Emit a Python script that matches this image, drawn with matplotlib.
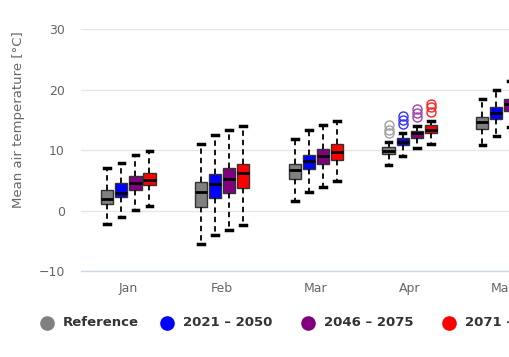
import numpy as np
import matplotlib
matplotlib.use("Agg")
import matplotlib.pyplot as plt
from matplotlib.lines import Line2D

plt.rcParams['font.family'] = ['DejaVu Sans']

months = ["Jan", "Feb", "Mar", "Apr", "May"]
series_names = ["Reference", "2021 \u2013 2050", "2046 \u2013 2075", "2071 \u2013 2100"]
series_colors = ["#808080", "#0000ff", "#800080", "#ff0000"]
flier_colors = ["#a0a0a0", "#3030ff", "#a040a8", "#ff2020"]

# [low, q1, median, q3, high] per month
reference = [[-2.2, 1.1, 2.0, 3.4, 7.0],
             [-5.5, 0.6, 3.1, 4.8, 11.0],
             [1.6, 5.3, 6.7, 7.8, 11.8],
             [7.6, 9.4, 9.9, 10.6, 11.4],
             [10.8, 13.6, 14.6, 15.5, 18.5]]
near_future = [[-1.1, 2.3, 3.0, 4.6, 7.9],
               [-4.0, 2.1, 4.5, 6.1, 12.5],
               [3.1, 6.9, 8.3, 9.3, 13.3],
               [9.0, 10.8, 11.4, 12.0, 12.9],
               [12.3, 15.2, 16.2, 17.1, 20.0]]
mid_future = [[0.2, 3.5, 4.6, 5.7, 9.3],
              [-3.2, 2.9, 5.2, 7.0, 13.3],
              [3.9, 7.7, 9.0, 10.2, 14.1],
              [10.3, 12.1, 12.8, 13.2, 14.0],
              [13.8, 16.5, 17.6, 18.4, 21.5]]
far_future = [[0.8, 4.2, 5.1, 6.3, 9.9],
              [-2.4, 3.8, 6.2, 7.8, 14.0],
              [4.9, 8.4, 9.7, 11.0, 14.9],
              [11.0, 12.9, 13.3, 14.2, 14.9],
              [15.0, 17.6, 18.6, 19.6, 23.0]]

# outliers, only in April
april_outliers = [[12.8, 13.4, 14.1],
                  [14.3, 15.0, 15.6],
                  [15.5, 16.2, 16.9],
                  [16.3, 17.1, 17.7]]

all_series = [reference, near_future, mid_future, far_future]
offsets = [-0.225, -0.075, 0.075, 0.225]

fig = plt.figure(figsize=(5.1, 3.57), dpi=100, facecolor='w')
ax = fig.add_axes([81.5 / 510, 1 - 271.3 / 357, 1 - 81.5 / 510, (271.3 - 29.3) / 357])

x = np.arange(len(months))
for s, data in enumerate(all_series):
    stats = []
    for m, row in enumerate(data):
        stats.append({
            "whislo": row[0], "q1": row[1], "med": row[2], "q3": row[3], "whishi": row[4],
            "fliers": april_outliers[s] if months[m] == "Apr" else [],
        })
    ax.bxp(
        stats, positions=x + offsets[s], widths=0.13, patch_artist=True,
        boxprops=dict(facecolor=series_colors[s], edgecolor='#333333', linewidth=1.0),
        medianprops=dict(color='black', linewidth=2.0),
        whiskerprops=dict(color='black', linewidth=1.3, linestyle=(0, (3, 2.2))),
        capprops=dict(color='black', linewidth=2.5),
        capwidths=0.06,
        flierprops=dict(marker='o', markersize=6.5, markerfacecolor='none',
                        markeredgecolor=flier_colors[s], markeredgewidth=1.0),
        zorder=3,
    )

ax.set_xlim(-0.5, 4.07)
ax.set_ylim(-10, 30)
ax.set_xticks(x)
ax.set_xticklabels(months)
ax.set_yticks([-10, 0, 10, 20, 30])
ax.set_yticklabels(["\u221210", "0", "10", "20", "30"])

ax.grid(True, axis='y', color='#e6e6e6', linewidth=1.0, zorder=0)
for side in ["top", "right", "left"]:
    ax.spines[side].set_visible(False)
ax.spines["bottom"].set_color('#ccd6eb')
ax.spines["bottom"].set_linewidth(1.0)
ax.tick_params(axis='both', length=0, labelsize=9, colors='#666666')
ax.tick_params(axis='x', pad=8)
ax.tick_params(axis='y', pad=12)
ax.set_ylabel("Mean air temperature [\u00b0C]", fontsize=9.5, color='#666666', labelpad=4)
ax.yaxis.set_label_coords(-0.131, 0.625)

# legend entries placed along the bottom, last one runs past the edge like the reference
legend_x = [47, 167, 308, 449]
legend_y = 1 - 323 / 357
for lx, name, c in zip(legend_x, series_names, series_colors):
    fig.add_artist(Line2D([lx / 510], [legend_y], transform=fig.transFigure, linestyle='none',
                          marker='o', markersize=9.5, markerfacecolor=c, markeredgecolor=c))
    fig.text((lx + 16) / 510, legend_y, name, ha='left', va='center', fontsize=9.5,
             fontweight='bold', color='#333333')

fig.savefig("out.png", dpi=100, facecolor='w')
plt.close(fig)
